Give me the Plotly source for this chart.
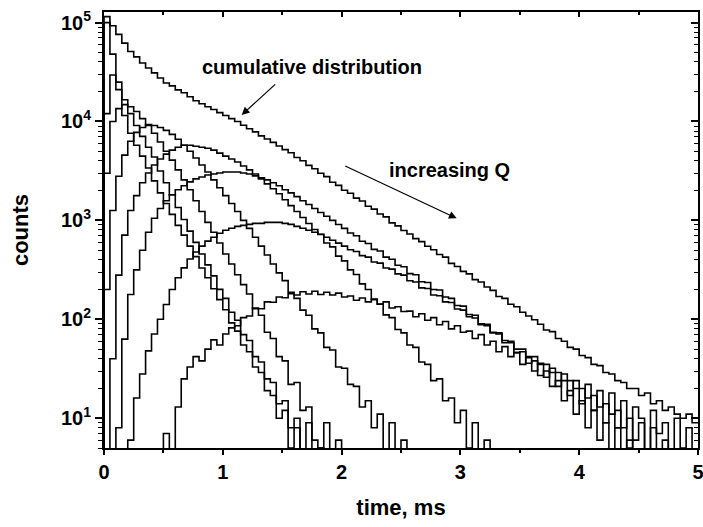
import plotly.graph_objects as go

BIN_WIDTH = 0.05  # ms per histogram bin

# counts per 0.05 ms bin, starting at t = 0
cumulative = [115000, 93000, 76000, 62000, 51000, 45000, 39000, 34700, 31000, 27500,
              24500, 22900, 20900, 19500, 17800, 16200, 15100, 14100, 13200, 12300,
              11500, 10700, 10000, 9150, 8450, 7850, 7150, 6650, 6150, 5650,
              5200, 4830, 4330, 4010, 3600, 3330, 3000, 2770, 2430, 2260,
              2020, 1880, 1680, 1570, 1390, 1300, 1160, 1085, 945, 880,
              790, 728, 655, 610, 548, 505, 452, 425, 368, 342,
              305, 288, 252, 238, 212, 196, 170, 163, 142, 134,
              118, 108, 99, 89, 78, 75, 64, 60, 52, 50,
              43, 41, 35, 34, 29, 28, 24, 23, 20, 20,
              17, 18, 14, 15, 12, 13, 11, 10, 11, 9]

q1 = [100000, 48000, 21000, 11500, 7600, 5750, 4470, 3390, 2510, 1900,
      1480, 1150, 890, 710, 550, 430, 330, 263, 204, 158,
      125, 92, 76, 55, 47, 33, 29, 19, 17, 10,
      12, 5, 8, 2, 4, 0]

q2 = [12000, 29500, 25000, 16600, 12000, 9100, 7080, 5500, 4370, 3160,
      2400, 1820, 1350, 1020, 780, 600, 457, 355, 275, 201,
      163, 118, 98, 70, 61, 42, 37, 25, 23, 14,
      15, 8, 10, 4, 9, 2, 5, 0]

q3 = [3000, 10000, 13500, 14800, 14100, 12600, 10700, 9100, 7600, 6200,
      5000, 4070, 3240, 2570, 2040, 1580, 1230, 955, 760, 590,
      457, 363, 282, 224, 180, 128, 110, 74, 64, 42,
      38, 22, 23, 12, 13, 6, 5, 9, 2, 6, 0]

q4 = [200, 1260, 2800, 4570, 6310, 7760, 8710, 9330, 9120, 8710,
      8130, 7410, 6610, 5750, 5010, 4270, 3630, 3090, 2570, 2140,
      1780, 1480, 1230, 1000, 830, 676, 550, 447, 363, 295,
      246, 188, 163, 124, 110, 80, 73, 52, 49, 33,
      32, 22, 21, 13, 15, 8, 11, 4, 9, 3, 6, 1, 0]

q5 = [0, 40, 280, 710, 1260, 1780, 2400, 3020, 3630, 4170,
      4680, 5130, 5500, 5750, 5750, 5620, 5500, 5370, 5130, 4790,
      4470, 4170, 3890, 3550, 3240, 2950, 2630, 2340, 2090, 1860,
      1620, 1410, 1230, 1070, 930, 810, 720, 590, 540, 435,
      390, 316, 284, 228, 200, 160, 143, 111, 104, 79,
      73, 55, 52, 37, 35, 24, 25, 15, 16, 9,
      12, 5, 9, 2, 6, 1, 0]

q6 = [0, 0, 8, 63, 178, 316, 500, 760, 1050, 1320,
      1580, 1820, 2040, 2240, 2450, 2630, 2750, 2880, 2950, 3020,
      3090, 3090, 3090, 3020, 2950, 2820, 2690, 2570, 2400, 2240,
      2040, 1900, 1740, 1580, 1450, 1320, 1200, 1100, 1000, 910,
      830, 745, 700, 615, 585, 510, 490, 425, 405, 352,
      340, 290, 282, 240, 236, 200, 198, 168, 163, 138,
      136, 112, 110, 90, 89, 74, 73, 58, 58, 46,
      47, 36, 38, 27, 30, 21, 24, 15, 19, 11,
      15, 8, 12, 6, 9, 4, 8, 2, 6, 1, 0]

q7 = [0, 0, 0, 0, 6, 16, 28, 48, 71, 100,
      141, 200, 263, 331, 407, 479, 550, 617, 676, 741,
      794, 832, 871, 891, 912, 933, 933, 955, 955, 955,
      933, 912, 871, 832, 794, 759, 724, 676, 631, 589,
      550, 505, 485, 440, 425, 380, 370, 330, 322, 288,
      280, 245, 238, 208, 205, 176, 173, 150, 148, 127,
      124, 106, 103, 88, 86, 73, 71, 61, 60, 50,
      50, 42, 42, 35, 35, 29, 29, 24, 24, 20,
      20, 16, 17, 13, 14, 11, 12, 8, 10, 6,
      9, 4, 8, 3, 6, 2, 0]

q8 = [0, 0, 0, 0, 0, 0, 0, 0, 0, 0,
      7, 0, 13, 25, 33, 42, 38, 50, 62, 55,
      71, 82, 86, 104, 108, 130, 128, 150, 149, 168,
      165, 182, 176, 190, 180, 192, 178, 188, 176, 184,
      168, 172, 156, 164, 150, 158, 142, 150, 130, 134,
      120, 121, 106, 114, 98, 104, 88, 95, 80, 86,
      74, 76, 64, 70, 55, 60, 47, 53, 42, 46,
      35, 41, 30, 36, 26, 32, 21, 28, 17, 24,
      14, 22, 12, 19, 9, 18, 8, 15, 5, 13,
      10, 4, 12, 7, 9, 3, 10, 5, 8, 4]

components = [q1, q2, q3, q4, q5, q6, q7, q8]

x_ticks = [0, 1, 2, 3, 4, 5]
y_ticks = [10, 100, 1000, 10000, 100000]
y_ticktext = ["10<sup>1</sup>", "10<sup>2</sup>", "10<sup>3</sup>", "10<sup>4</sup>", "10<sup>5</sup>"]

FONT = "Liberation Sans, Arial, sans-serif"
Y_RANGE = [0.699, 5.107]
X_RANGE = [0, 5]


def step_xy(counts):
    n = len(counts)
    edges = [round(i * BIN_WIDTH, 4) for i in range(n + 1)]
    ys = [max(c, 1) for c in counts]  # empty bins drop below the axis floor
    return [edges[0]] + edges[:n] + [edges[n]], [1] + ys + [ys[-1]]


fig = go.Figure()
for vals in components + [cumulative]:
    xs, ys = step_xy(vals)
    fig.add_trace(go.Scatter(x=xs, y=ys, mode="lines", line=dict(color="black", width=1.6, shape="hv"),
                             showlegend=False, hoverinfo="skip"))

# dummy trace so mirrored (top/right) axes are drawn with inward ticks
fig.add_trace(go.Scatter(x=[0, 0], y=[1, 1], xaxis="x2", yaxis="y2", mode="lines",
                         line=dict(width=0), showlegend=False, hoverinfo="skip"))

minor_y = [m * 10 ** k for k in range(0, 6) for m in range(2, 10)]

fig.update_layout(
    width=703, height=527,
    margin=dict(l=104, r=5, t=12, b=79, autoexpand=False),
    paper_bgcolor="white", plot_bgcolor="white",
    font=dict(family=FONT, color="black"),
    xaxis=dict(range=X_RANGE, tickmode="array", tickvals=x_ticks, ticks="outside", ticklen=5, tickwidth=1.5,
               tickcolor="black", showline=True, linewidth=2, linecolor="black", showgrid=False, zeroline=False,
               ticklabeloverflow="allow", automargin=False,
               tickfont=dict(size=20, family=FONT, weight="bold"),
               minor=dict(ticks="outside", ticklen=3, tickwidth=1.5, tickcolor="black", tickmode="array",
                          tickvals=[0.5, 1.5, 2.5, 3.5, 4.5], showgrid=False),
               title=dict(text="time, ms", font=dict(size=22, family=FONT, weight="bold"), standoff=18)),
    yaxis=dict(type="log", range=Y_RANGE, tickmode="array", tickvals=y_ticks, ticktext=y_ticktext,
               ticks="outside", ticklen=7, tickwidth=1.5, tickcolor="black", automargin=False,
               showline=True, linewidth=2, linecolor="black", showgrid=False, zeroline=False,
               tickfont=dict(size=20, family=FONT, weight="bold"),
               minor=dict(ticks="outside", ticklen=4, tickwidth=1.2, tickcolor="black", tickmode="array",
                          tickvals=minor_y, showgrid=False),
               title=dict(text="counts", font=dict(size=22, family=FONT, weight="bold"), standoff=26)),
    xaxis2=dict(overlaying="x", side="top", range=X_RANGE, tickmode="array", tickvals=x_ticks, ticks="inside",
                ticklen=5, tickwidth=1.5, tickcolor="black", showticklabels=False, showline=True, linewidth=2,
                linecolor="black", showgrid=False, zeroline=False, automargin=False,
                minor=dict(ticks="inside", ticklen=3, tickwidth=1.5, tickcolor="black", tickmode="array",
                           tickvals=[0.5, 1.5, 2.5, 3.5, 4.5], showgrid=False)),
    yaxis2=dict(overlaying="y", side="right", type="log", range=Y_RANGE, tickmode="array", tickvals=y_ticks,
                ticks="inside", ticklen=7, tickwidth=1.5, tickcolor="black", showticklabels=False,
                showline=True, linewidth=2, linecolor="black", showgrid=False, zeroline=False, automargin=False,
                minor=dict(ticks="inside", ticklen=4, tickwidth=1.2, tickcolor="black", tickmode="array",
                           tickvals=minor_y, showgrid=False)),
    annotations=[
        dict(text="cumulative distribution", xref="paper", yref="paper", x=0.350, y=0.874, showarrow=False,
             font=dict(size=20, family=FONT, weight="bold"), xanchor="center", yanchor="middle"),
        dict(text="increasing Q", xref="paper", yref="paper", x=0.5816, y=0.6376, showarrow=False,
             font=dict(size=20, family=FONT, weight="bold"), xanchor="center", yanchor="middle"),
        dict(text="", xref="paper", yref="paper", x=0.2318, y=0.7638, ax=35, ay=-32, axref="pixel",
             ayref="pixel", showarrow=True, arrowhead=2, arrowsize=1.3, arrowwidth=1.2, arrowcolor="black"),
        dict(text="", xref="paper", yref="paper", x=0.5938, y=0.5268, ax=-113, ay=-53, axref="pixel",
             ayref="pixel", showarrow=True, arrowhead=2, arrowsize=1.3, arrowwidth=1.2, arrowcolor="black"),
    ],
)

fig.write_html("out.html")
